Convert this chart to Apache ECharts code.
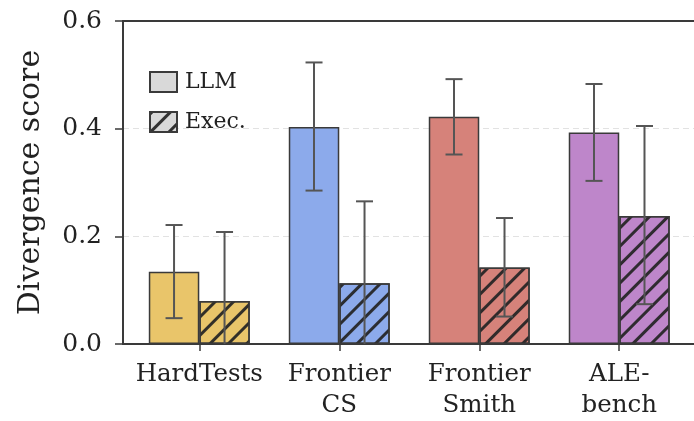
<!DOCTYPE html>
<html><head><meta charset="utf-8">
<script src="https://cdn.jsdelivr.net/npm/echarts@6/dist/echarts.min.js"></script>
<style>html,body{margin:0;padding:0;background:#fff}#c{width:694px;height:421px}</style>
</head><body><div id="c"></div>
<script>
const categories = ['HardTests', 'Frontier\nCS', 'Frontier\nSmith', 'ALE-\nbench'];
const groupColors = ['#E9C56A', '#8CAAEB', '#D6827A', '#BE86CA'];
const llmMean = [0.134, 0.403, 0.422, 0.393];
const llmLow = [0.048, 0.285, 0.352, 0.303];
const llmHigh = [0.221, 0.523, 0.492, 0.483];
const execMean = [0.080, 0.113, 0.142, 0.238];
const execLow = [-0.048, -0.039, 0.051, 0.074];
const execHigh = [0.208, 0.265, 0.234, 0.405];
const yTicks = [0, 0.2, 0.4, 0.6];
const seriesNames = ['LLM', 'Exec.'];

const FONT = 'DejaVu Serif';
const BAR_W = 50.5;
const EDGE = '#3a3a3a';
const X_MIN = -0.545, X_MAX = 3.534;
const hatch = {
  symbol: 'rect', symbolSize: 1, color: 'rgba(35,35,35,0.92)',
  dashArrayX: [1, 0], dashArrayY: [2.5, 9.5], rotation: -Math.PI / 4
};

function barData(vals) {
  return vals.map((v, i) => ({ value: [i, v], itemStyle: { color: groupColors[i] } }));
}
function errData(lows, highs) {
  return lows.map((l, i) => [i, l, highs[i]]);
}
function errRender(dx) {
  return function (params, api) {
    const i = api.value(0);
    const x = api.coord([i, 0])[0] + dx;
    const yl = api.coord([i, api.value(1)])[1];
    const yh = api.coord([i, api.value(2)])[1];
    const st = { stroke: '#555', lineWidth: 2, fill: null };
    const cw = 8.5;
    return {
      type: 'group', children: [
        { type: 'line', shape: { x1: x, y1: yl, x2: x, y2: yh }, style: st },
        { type: 'line', shape: { x1: x - cw, y1: yh, x2: x + cw, y2: yh }, style: st },
        { type: 'line', shape: { x1: x - cw, y1: yl, x2: x + cw, y2: yl }, style: st }
      ]
    };
  };
}

const chart = echarts.init(document.getElementById('c'), null, { renderer: 'canvas' });
chart.setOption({
  animation: false,
  backgroundColor: '#fff',
  textStyle: { fontFamily: FONT, color: '#222' },
  grid: { left: 123, right: 0, top: 21, bottom: 77, show: false },
  legend: {
    data: seriesNames, orient: 'vertical', left: 144, top: 66, icon: 'rect',
    itemWidth: 27, itemHeight: 20, itemGap: 18,
    textStyle: { fontFamily: FONT, fontSize: 22, color: '#222', padding: [0, 0, 0, 3] }
  },
  xAxis: [{
    type: 'value', min: X_MIN, max: X_MAX,
    axisLine: { show: true, onZero: false, lineStyle: { color: EDGE, width: 2 } },
    splitLine: { show: false },
    axisTick: { show: true, length: 7, customValues: [0, 1, 2, 3], lineStyle: { color: EDGE, width: 1.5 } },
    axisLabel: {
      customValues: [0, 1, 2, 3], formatter: v => categories[Math.round(v)],
      fontFamily: FONT, fontSize: 24.5, color: '#222', lineHeight: 31, margin: 15
    }
  }, {
    type: 'value', position: 'top', min: X_MIN, max: X_MAX,
    axisLine: { show: true, onZero: false, lineStyle: { color: EDGE, width: 2 } },
    splitLine: { show: false }, axisTick: { show: false }, axisLabel: { show: false }
  }],
  yAxis: {
    type: 'value', min: yTicks[0], max: yTicks[yTicks.length - 1], interval: 0.2,
    name: 'Divergence score', nameLocation: 'middle', nameGap: 77,
    nameTextStyle: { fontFamily: FONT, fontSize: 30, color: '#222' },
    axisLine: { show: true, onZero: false, lineStyle: { color: EDGE, width: 2 } },
    axisTick: { show: true, inside: false, length: 8, lineStyle: { color: EDGE, width: 1.5 } },
    axisLabel: { formatter: v => v.toFixed(1), fontFamily: FONT, fontSize: 25, color: '#222', margin: 21 },
    splitLine: { show: true, showMinLine: false, showMaxLine: false, lineStyle: { color: '#e2e2e2', type: [6, 4], width: 1 } }
  },
  series: [
    {
      name: seriesNames[0], type: 'bar', barWidth: BAR_W, barGap: '0%',
      itemStyle: { color: '#d9d9d9', borderColor: EDGE, borderWidth: 1.5 },
      data: barData(llmMean), z: 2
    },
    {
      name: seriesNames[1], type: 'bar', barWidth: BAR_W, barGap: '0%',
      itemStyle: { color: '#d9d9d9', borderColor: EDGE, borderWidth: 1.5, decal: hatch },
      data: barData(execMean), z: 2
    },
    {
      name: 'llm-err', type: 'custom', renderItem: errRender(-BAR_W / 2),
      data: errData(llmLow, llmHigh), encode: { x: 0, y: [1, 2] }, z: 5, clip: true, silent: true
    },
    {
      name: 'exec-err', type: 'custom', renderItem: errRender(BAR_W / 2),
      data: errData(execLow, execHigh), encode: { x: 0, y: [1, 2] }, z: 5, clip: true, silent: true
    }
  ]
});
</script></body></html>
